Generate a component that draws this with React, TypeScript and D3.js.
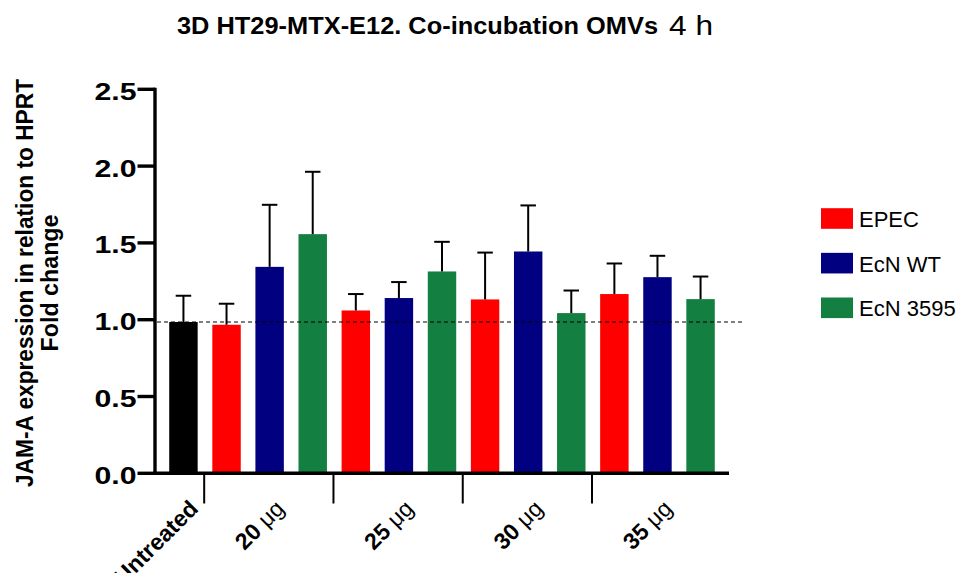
import React from "react";
import * as d3 from "d3";

const title = "3D HT29-MTX-E12. Co-incubation OMVs";
const titleSuffix = "4 h";
const yLabelLines = ["JAM-A expression in relation to HPRT", "Fold change"];

const groupLabels = ["Untreated", "20", "25", "30", "35"];
const unitLabel = "\u03bcg";
const seriesNames = ["EPEC", "EcN WT", "EcN 3595"];
const seriesColors = ["#FF0000", "#000080", "#137F41"];
const untreatedColor = "#000000";

const untreatedMean = 0.985;
const untreatedErr = 0.171;
const epecMean = [0.967, 1.06, 1.132, 1.167];
const epecErr = [0.137, 0.107, 0.305, 0.199];
const wtMean = [1.344, 1.141, 1.444, 1.277];
const wtErr = [0.404, 0.104, 0.3, 0.139];
const e3595Mean = [1.557, 1.314, 1.043, 1.134];
const e3595Err = [0.406, 0.193, 0.147, 0.147];

const yTicks = [0, 0.5, 1.0, 1.5, 2.0, 2.5];

const FONT = "'Liberation Sans', Arial, Helvetica, sans-serif";

type Bar = { key: string; group: number; mean: number; err: number; color: string };

const bars: Bar[] = [
  { key: "Untreated", group: 0, mean: untreatedMean, err: untreatedErr, color: untreatedColor },
];
const seriesMeans = [epecMean, wtMean, e3595Mean];
const seriesErrs = [epecErr, wtErr, e3595Err];
for (let g = 0; g < 4; g++) {
  for (let s = 0; s < 3; s++) {
    bars.push({
      key: `${seriesNames[s]}-${groupLabels[g + 1]}`,
      group: g + 1,
      mean: seriesMeans[s][g],
      err: seriesErrs[s][g],
      color: seriesColors[s],
    });
  }
}

export default function App() {
  const W = 962;
  const H = 573;
  const x = d3
    .scaleBand<string>()
    .domain(bars.map((b) => b.key))
    .range([155, 729])
    .paddingInner(0.34)
    .paddingOuter(0.33);
  const y = d3.scaleLinear().domain([0, 2.5]).range([473.3, 89.3]);
  const bw = x.bandwidth();
  const capW = 15.5;

  const groupCenters = groupLabels.map((_, gi) => {
    const gb = bars.filter((b) => b.group === gi);
    const first = x(gb[0].key)!;
    const last = x(gb[gb.length - 1].key)! + bw;
    return (first + last) / 2;
  });
  const separators: number[] = [];
  for (let gi = 0; gi < groupLabels.length - 1; gi++) {
    const gb = bars.filter((b) => b.group === gi);
    const nb = bars.filter((b) => b.group === gi + 1);
    const end = x(gb[gb.length - 1].key)! + bw;
    const start = x(nb[0].key)!;
    separators.push((end + start) / 2 - 0.8);
  }

  const legendY = d3.scaleLinear().domain([0, 2]).range([218.5, 307.8]);

  return (
    <svg width={W} height={H} style={{ position: "absolute", left: 0, top: 0, background: "#fff" }}>
      <rect x={0} y={0} width={W} height={H} fill="#fff" />
      {/* title */}
      <text x={177} y={34} fontFamily={FONT} fontWeight="bold" fontSize={23} textLength={481} lengthAdjust="spacingAndGlyphs">
        {title}
      </text>
      <text x={669} y={35} fontFamily={FONT} fontSize={28} textLength={44} lengthAdjust="spacingAndGlyphs">
        {titleSuffix}
      </text>

      {/* y label */}
      {yLabelLines.map((t, i) => (
        <text
          key={t}
          transform={`translate(${33 + i * 25},283) rotate(-90)`}
          textAnchor="middle"
          fontFamily={FONT}
          fontWeight="bold"
          fontSize={23}
          textLength={i === 0 ? 408 : 137}
          lengthAdjust="spacingAndGlyphs"
        >
          {t}
        </text>
      ))}

      {/* bars */}
      {bars.map((b) => (
        <rect key={b.key} x={x(b.key)} y={y(b.mean)} width={bw} height={y(0) - y(b.mean)} fill={b.color} />
      ))}

      {/* error bars */}
      {bars.map((b) => {
        const cx = x(b.key)! + bw / 2;
        return (
          <g key={"e" + b.key} stroke="#000" strokeWidth={2}>
            <line x1={cx} x2={cx} y1={y(b.mean)} y2={y(b.mean + b.err)} />
            <line x1={cx - capW / 2} x2={cx + capW / 2} y1={y(b.mean + b.err)} y2={y(b.mean + b.err)} />
          </g>
        );
      })}

      {/* dashed reference line */}
      <line
        x1={157}
        x2={743}
        y1={y(untreatedMean)}
        y2={y(untreatedMean)}
        stroke="#000"
        strokeWidth={1.2}
        strokeDasharray="4,3"
      />

      {/* y axis */}
      <line x1={155} x2={155} y1={y(2.5) - 1.6} y2={y(0) + 1.6} stroke="#000" strokeWidth={3.4} />
      {yTicks.map((t) => (
        <g key={t}>
          <line x1={137.5} x2={155} y1={y(t)} y2={y(t)} stroke="#000" strokeWidth={3.4} />
          <text
            x={136.5}
            y={y(t) + 10.5}
            textAnchor="end"
            fontFamily={FONT}
            fontWeight="bold"
            fontSize={24}
            textLength={42}
            lengthAdjust="spacingAndGlyphs"
          >
            {t.toFixed(1)}
          </text>
        </g>
      ))}

      {/* x axis */}
      <line x1={153.3} x2={729} y1={y(0)} y2={y(0)} stroke="#000" strokeWidth={3.4} />
      {separators.map((sx, i) => (
        <line key={i} x1={sx} x2={sx} y1={y(0)} y2={503.5} stroke="#000" strokeWidth={2} />
      ))}

      {/* x labels */}
      {groupLabels.map((g, gi) => {
        const px = groupCenters[gi] + 16;
        const py = 510;
        return (
          <text
            key={g}
            transform={`translate(${px},${py}) rotate(-45)`}
            textAnchor="end"
            fontFamily={FONT}
            fontSize={23}
          >
            {gi === 0 ? (
              <tspan fontWeight="bold">{g}</tspan>
            ) : (
              <>
                <tspan fontWeight="bold">{g} </tspan>
                <tspan>{unitLabel}</tspan>
              </>
            )}
          </text>
        );
      })}

      {/* legend */}
      {seriesNames.map((s, i) => (
        <g key={s}>
          <rect x={821} y={legendY(i) - 10.3} width={32} height={20.6} fill={seriesColors[i]} />
          <text x={859} y={legendY(i) + 8.5} fontFamily={FONT} fontSize={22}>
            {s}
          </text>
        </g>
      ))}
    </svg>
  );
}
